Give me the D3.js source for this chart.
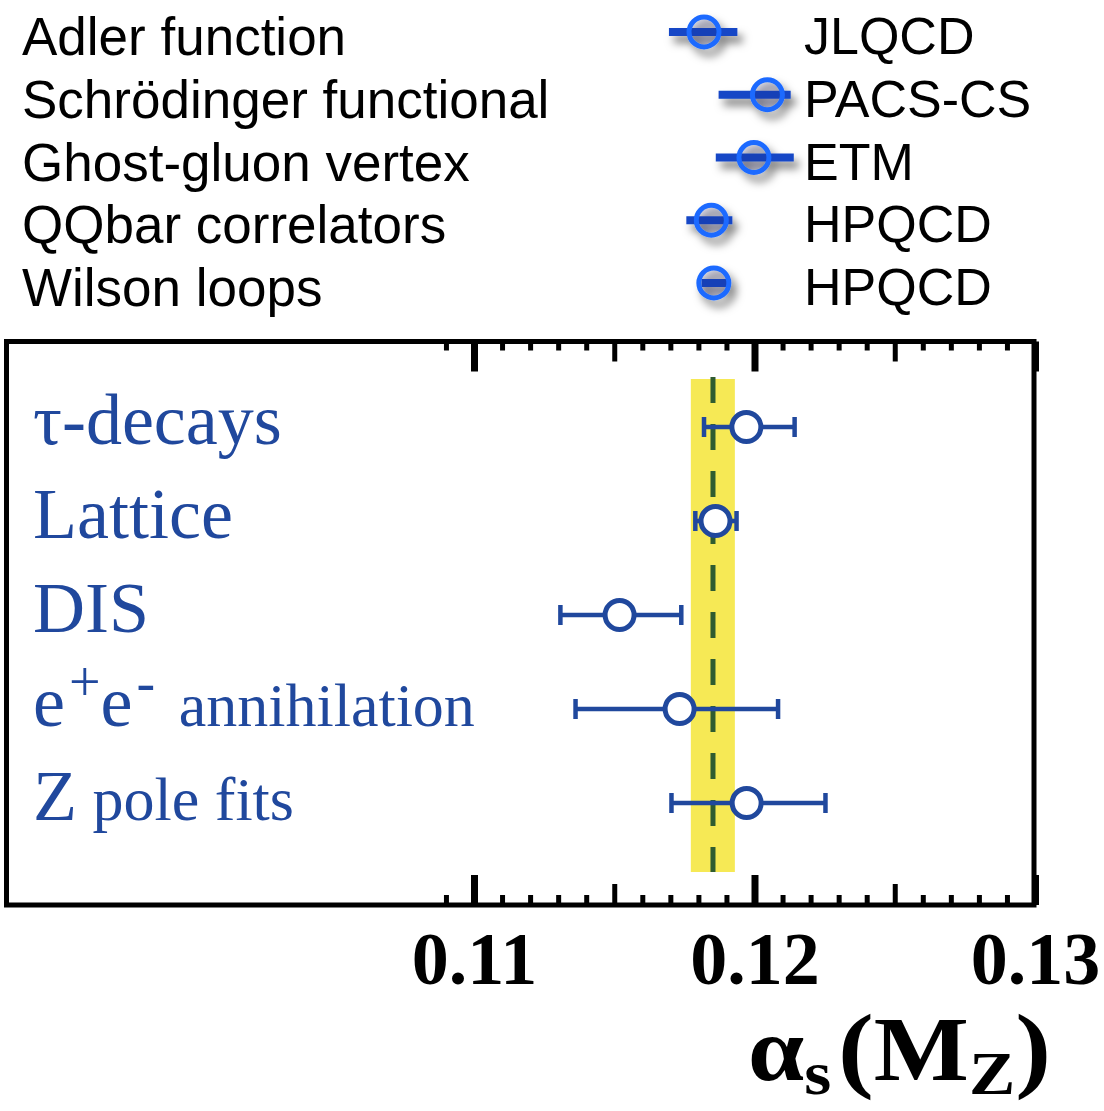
<!DOCTYPE html>
<html lang="en">
<head>
<meta charset="utf-8">
<title>alpha_s(M_Z) summary</title>
<script src="https://d3js.org/d3.v7.min.js"></script>
<style>
  body { margin: 0; background: #fff; }
</style>
</head>
<body>
<script>
// ---- data ----
const methods = ["τ-decays", "Lattice", "DIS", "e^+e^- annihilation", "Z pole fits"];
const central = [0.11971, 0.11861, 0.11519, 0.11733, 0.11972];
const lower   = [0.11820, 0.11789, 0.11308, 0.11362, 0.11704];
const upper   = [0.12143, 0.11936, 0.11739, 0.12084, 0.12253];

const latticeMethods = ["Adler function", "Schrödinger functional", "Ghost-gluon vertex", "QQbar correlators", "Wilson loops"];
const latticeGroups  = ["JLQCD", "PACS-CS", "ETM", "HPQCD", "HPQCD"];
const latticeCentral = [0.11820, 0.12046, 0.11998, 0.11846, 0.11855];
const latticeLower   = [0.11695, 0.11872, 0.11862, 0.11757, 0.11811];
const latticeUpper   = [0.11939, 0.12129, 0.12140, 0.11921, 0.11914];

const worldAverage = 0.11852;
const worldLower = 0.11773;
const worldUpper = 0.11930;

const majorTicks = [0.11, 0.12, 0.13];
const midTicks = [0.115, 0.125];
const minorTicks = d3.range(109, 131).filter(i => i % 5 !== 0).map(i => i / 1000);

// ---- layout ----
const width = 1104, height = 1111;
const frame = {left: 6.5, top: 341.5, right: 1034, bottom: 905};
const blue = "#20489d";
const serif = "'Liberation Serif', 'Times New Roman', serif";
const sans = "'Liberation Sans', Arial, sans-serif";

const x = d3.scaleLinear().domain([0.11, 0.13]).range([474, 1035]);
const y = d3.scalePoint().domain(methods).range([427, 803]);
const yl = d3.scalePoint().domain(latticeMethods).range([32, 283]);

const svg = d3.select("body").append("svg")
    .attr("width", width)
    .attr("height", height);

const defs = svg.append("defs");
defs.append("filter")
    .attr("id", "shadow")
    .attr("x", "-50%").attr("y", "-80%")
    .attr("width", "200%").attr("height", "260%")
  .append("feDropShadow")
    .attr("dx", 5).attr("dy", 7)
    .attr("stdDeviation", 4)
    .attr("flood-color", "#000")
    .attr("flood-opacity", 0.5);

// ---- lattice legend at top ----
svg.append("g").selectAll("text")
    .data(latticeMethods)
    .join("text")
    .attr("x", 22)
    .attr("y", d => yl(d) + 23)
    .attr("font-family", sans)
    .attr("font-size", 53)
    .attr("fill", "#000")
    .text(d => d);

svg.append("g").selectAll("text")
    .data(latticeGroups)
    .join("text")
    .attr("x", 804)
    .attr("y", (d, i) => yl(latticeMethods[i]) + 22)
    .attr("font-family", sans)
    .attr("font-size", 52)
    .attr("fill", "#000")
    .text(d => d);

const lat = svg.append("g").selectAll("g")
    .data(latticeMethods)
    .join("g")
    .attr("filter", "url(#shadow)");

lat.append("line")
    .attr("x1", (d, i) => x(latticeLower[i]))
    .attr("x2", (d, i) => x(latticeUpper[i]))
    .attr("y1", d => yl(d))
    .attr("y2", d => yl(d))
    .attr("stroke", "#1446c6")
    .attr("stroke-width", 8);

lat.append("circle")
    .attr("cx", (d, i) => x(latticeCentral[i]))
    .attr("cy", d => yl(d))
    .attr("r", 15)
    .attr("fill", "rgba(30,30,70,0.12)")
    .attr("stroke", "#1f6bff")
    .attr("stroke-width", 5);

// ---- world average band and line ----
const bandTop = y(methods[0]) - 48;
const bandBottom = y(methods[methods.length - 1]) + 69;

svg.append("rect")
    .attr("x", x(worldLower))
    .attr("y", bandTop)
    .attr("width", x(worldUpper) - x(worldLower))
    .attr("height", bandBottom - bandTop)
    .attr("fill", "#f6e955");

svg.append("line")
    .attr("x1", x(worldAverage)).attr("x2", x(worldAverage))
    .attr("y1", bandTop - 2).attr("y2", bandBottom)
    .attr("stroke", "#2f5c30")
    .attr("stroke-width", 5)
    .attr("stroke-dasharray", "26,21");

// ---- frame and ticks ----
svg.append("rect")
    .attr("x", frame.left)
    .attr("y", frame.top)
    .attr("width", frame.right - frame.left)
    .attr("height", frame.bottom - frame.top)
    .attr("fill", "none")
    .attr("stroke", "#000")
    .attr("stroke-width", 5);

function tickRow(axisFn, yPos, values, len, w) {
  const g = svg.append("g")
      .attr("transform", `translate(0,${yPos})`)
      .call(axisFn(x).tickValues(values).tickSize(-len).tickFormat(""));
  g.select(".domain").remove();
  g.selectAll(".tick line").attr("stroke", "#000").attr("stroke-width", w);
  return g;
}
tickRow(d3.axisTop, frame.top, minorTicks, 9, 5);
tickRow(d3.axisTop, frame.top, midTicks, 20, 5);
tickRow(d3.axisTop, frame.top, majorTicks, 30, 7);
tickRow(d3.axisBottom, frame.bottom, minorTicks, 10, 5);
tickRow(d3.axisBottom, frame.bottom, midTicks, 21, 5);

const bottomMajor = svg.append("g")
    .attr("transform", `translate(0,${frame.bottom})`)
    .call(d3.axisBottom(x).tickValues(majorTicks).tickSize(-30).tickPadding(26)
      .tickFormat(d3.format(".2f")));
bottomMajor.select(".domain").remove();
bottomMajor.selectAll(".tick line").attr("stroke", "#000").attr("stroke-width", 7);
bottomMajor.selectAll(".tick text")
    .attr("font-family", serif)
    .attr("font-weight", "bold")
    .attr("font-size", 74)
    .attr("fill", "#000");

// ---- error bars ----
const pts = svg.append("g").selectAll("g")
    .data(methods)
    .join("g")
    .attr("stroke", blue)
    .attr("stroke-width", 4.5);

pts.append("line")
    .attr("x1", (d, i) => x(lower[i]))
    .attr("x2", (d, i) => x(upper[i]))
    .attr("y1", d => y(d)).attr("y2", d => y(d));

pts.append("line")
    .attr("x1", (d, i) => x(lower[i])).attr("x2", (d, i) => x(lower[i]))
    .attr("y1", d => y(d) - 10).attr("y2", d => y(d) + 10);

pts.append("line")
    .attr("x1", (d, i) => x(upper[i])).attr("x2", (d, i) => x(upper[i]))
    .attr("y1", d => y(d) - 10).attr("y2", d => y(d) + 10);

pts.append("circle")
    .attr("cx", (d, i) => x(central[i]))
    .attr("cy", d => y(d))
    .attr("r", 14.5)
    .attr("fill", "#fff")
    .attr("stroke-width", 5);

// ---- method labels (first word large, ^ marks a superscript) ----
const labels = svg.append("g").selectAll("text")
    .data(methods)
    .join("text")
    .attr("x", 33)
    .attr("y", d => y(d) + 17)
    .attr("font-family", serif)
    .attr("fill", blue);

labels.each(function(d) {
  const t = d3.select(this);
  const words = d.split(" ");
  let raised = false;
  words[0].split(/(\^.)/).filter(s => s.length).forEach(seg => {
    if (seg[0] === "^") {
      t.append("tspan").attr("font-size", 56).attr("dx", 4)
        .attr("dy", raised ? 0 : -25).text(seg[1]);
      raised = true;
    } else {
      t.append("tspan").attr("font-size", 72)
        .attr("dy", raised ? 25 : 0).text(seg);
      raised = false;
    }
  });
  if (words.length > 1) {
    t.append("tspan").attr("font-size", 62).attr("dx", raised ? 8 : 0)
      .attr("dy", raised ? 25 : 0)
      .text(" " + words.slice(1).join(" "));
  }
});

// ---- axis title (stretched horizontally like the original glyphs) ----
const title = svg.append("text")
    .attr("transform", "translate(748,1080) scale(1.12,1)")
    .attr("font-family", serif)
    .attr("font-weight", "bold")
    .attr("fill", "#000");
title.append("tspan").attr("font-size", 90).text("α");
title.append("tspan").attr("font-size", 62).attr("dy", 14).text("s");
title.append("tspan").attr("font-size", 96).attr("dx", 6).attr("dy", -14).text("(");
title.append("tspan").attr("font-size", 90).text("M");
title.append("tspan").attr("font-size", 62).attr("dy", 14).text("Z");
title.append("tspan").attr("font-size", 96).attr("dy", -14).text(")");
</script>
</body>
</html>
